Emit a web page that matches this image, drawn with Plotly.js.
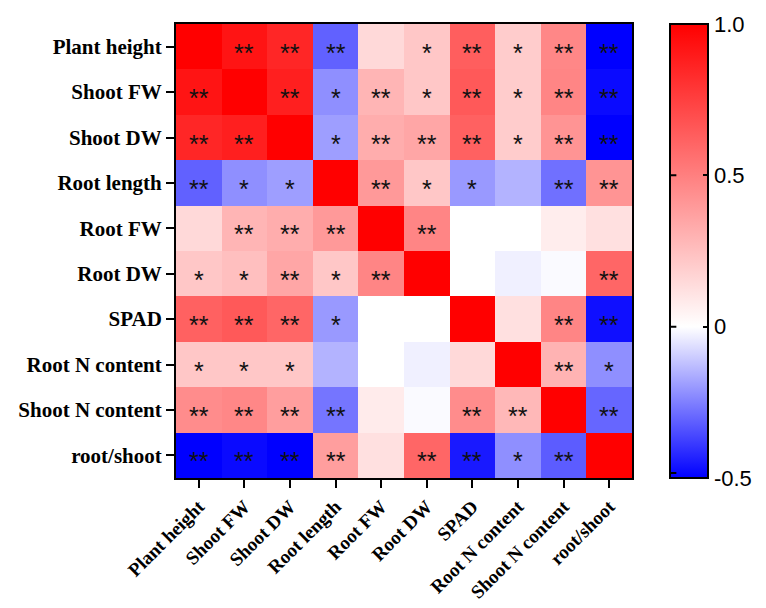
<!DOCTYPE html>
<html>
<head>
<meta charset="utf-8">
<script src="https://cdn.plot.ly/plotly-3.0.1.min.js"></script>
<style>html,body{margin:0;padding:0;background:#fff;}</style>
</head>
<body>
<div id="chart" style="width:766px;height:608px;"></div>
<script>
const categories = ["Plant height","Shoot FW","Shoot DW","Root length","Root FW","Root DW","SPAD","Root N content","Shoot N content","root/shoot"];

const corrValues = [
  [1.00, 0.92, 0.85, -0.31, 0.15, 0.22, 0.63, 0.20, 0.47, -0.50],
  [0.92, 1.00, 0.88, -0.22, 0.29, 0.22, 0.65, 0.20, 0.48, -0.48],
  [0.85, 0.88, 1.00, -0.19, 0.32, 0.35, 0.62, 0.20, 0.42, -0.50],
  [-0.31, -0.22, -0.19, 1.00, 0.40, 0.22, -0.20, -0.15, -0.28, 0.42],
  [0.15, 0.29, 0.32, 0.40, 1.00, 0.48, 0.00, 0.00, 0.07, 0.12],
  [0.22, 0.25, 0.35, 0.22, 0.48, 1.00, 0.00, -0.03, -0.01, 0.60],
  [0.62, 0.65, 0.60, -0.20, 0.00, 0.00, 1.00, 0.12, 0.48, -0.47],
  [0.22, 0.22, 0.22, -0.15, 0.00, -0.03, 0.15, 1.00, 0.30, -0.22],
  [0.45, 0.47, 0.38, -0.27, 0.08, -0.01, 0.45, 0.28, 1.00, -0.30],
  [-0.50, -0.48, -0.50, 0.38, 0.12, 0.60, -0.45, -0.22, -0.32, 1.00]
];

const significance = [
  ["", "**", "**", "**", "", "*", "**", "*", "**", "**"],
  ["**", "", "**", "*", "**", "*", "**", "*", "**", "**"],
  ["**", "**", "", "*", "**", "**", "**", "*", "**", "**"],
  ["**", "*", "*", "", "**", "*", "*", "", "**", "**"],
  ["", "**", "**", "**", "", "**", "", "", "", ""],
  ["*", "*", "**", "*", "**", "", "", "", "", "**"],
  ["**", "**", "**", "*", "", "", "", "", "**", "**"],
  ["*", "*", "*", "", "", "", "", "", "**", "*"],
  ["**", "**", "**", "**", "", "", "**", "**", "", "**"],
  ["**", "**", "**", "**", "", "**", "**", "*", "**", ""]
];

const colorbarTickVals = [1.0, 0.5, 0, -0.5];
const colorbarTickText = ["1.0", "0.5", "0", "-0.5"];
const zMin = -0.5, zMax = 1.0;

const trace = {
  type: "heatmap",
  z: corrValues,
  x: categories,
  y: categories,
  zmin: zMin,
  zmax: zMax,
  colorscale: [[0, "rgb(0,0,255)"], [1/3, "rgb(255,255,255)"], [1, "rgb(255,0,0)"]],
  colorbar: {
    x: 1.083, xanchor: "left", xref: "paper",
    y: 0.5, yanchor: "middle", len: 1.0, lenmode: "fraction",
    thickness: 38, thicknessmode: "pixels",
    outlinewidth: 2, outlinecolor: "#000",
    tickvals: colorbarTickVals, ticktext: colorbarTickText,
    ticks: "inside", ticklen: 6, tickwidth: 2, tickcolor: "#000", ticklabelpad: 12,
    tickfont: {family: "Liberation Sans, Arial, sans-serif", size: 22, color: "#000"},
    xpad: 0, ypad: 0
  }
};

// significance annotations
const annotations = [];
significance.forEach((row, i) => {
  row.forEach((s, j) => {
    if (s) {
      annotations.push({
        x: categories[j], y: categories[i], xref: "x", yref: "y",
        text: s, showarrow: false, yshift: -6,
        font: {family: "Liberation Sans, Arial, sans-serif", size: 25, color: "#111"}
      });
    }
  });
});

// colorbar inner tick marks on the left side
const cbLeft = 1.083;
colorbarTickVals.forEach(v => {
  if (v === zMax) return;
  const yp = (v - zMin) / (zMax - zMin);
  annotations.push({
    x: cbLeft, y: yp, xref: "paper", yref: "paper",
    text: "", showarrow: true, arrowhead: 0, arrowwidth: 2, arrowcolor: "#000",
    ax: 7, ay: 0, standoff: 0, startstandoff: 0,
    yshift: v === zMin ? 5 : 0, xshift: 1
  });
});

const layout = {
  width: 766, height: 608,
  margin: {l: 176, r: 134, t: 24, b: 130, autoexpand: false},
  paper_bgcolor: "#fff", plot_bgcolor: "#fff",
  annotations: annotations,
  xaxis: {
    type: "category",
    tickangle: -45,
    ticks: "outside", ticklen: 8, tickwidth: 2, tickcolor: "#000",
    showline: true, linewidth: 2, linecolor: "#000", mirror: true,
    tickfont: {family: "Liberation Serif, Times New Roman, serif", size: 19, color: "#000", weight: "bold"},
    showgrid: false, zeroline: false, fixedrange: true
  },
  yaxis: {
    type: "category",
    autorange: "reversed",
    ticks: "outside", ticklen: 8, tickwidth: 2, tickcolor: "#000",
    showline: true, linewidth: 2, linecolor: "#000", mirror: true,
    tickfont: {family: "Liberation Serif, Times New Roman, serif", size: 21, color: "#000", weight: "bold"},
    showgrid: false, zeroline: false, fixedrange: true
  }
};

Plotly.newPlot("chart", [trace], layout, {displayModeBar: false, staticPlot: true});
</script>
</body>
</html>
